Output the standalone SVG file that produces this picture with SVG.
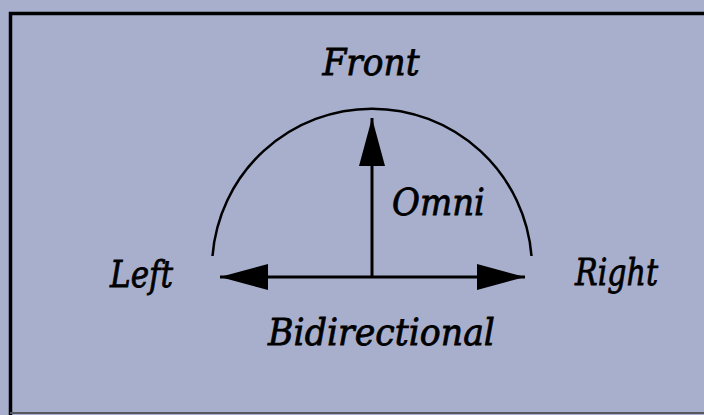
<svg xmlns="http://www.w3.org/2000/svg" width="704" height="415" viewBox="0 0 704 415">
<style>
.lbl{font-family:"DejaVu Serif",serif;font-style:italic;font-size:37px;fill:#000;stroke:#000;stroke-width:0.8px}
.ln{stroke:#000;fill:none}
</style>
<defs>
<marker id="ah" viewBox="0 0 48 26" refX="48" refY="13" markerWidth="48" markerHeight="26" markerUnits="userSpaceOnUse" orient="auto">
<path d="M0,0 L48,13 L0,26 Z" fill="#000"/>
</marker>
</defs>
<rect x="0" y="0" width="704" height="415" fill="#a7afcc"/>
<g id="frame">
<path d="M10.5,415 V13.5 H704" class="ln" stroke-width="3.5"/>
<path d="M10,413 H704" stroke="#55585f" stroke-width="2"/>
</g>
<g id="connectors">
<path id="arc" d="M212.5,256 A160,160 0 0 1 531.5,256" class="ln" stroke-width="2.5"/>
<line id="omni-arrow" x1="372" y1="277" x2="372" y2="118" class="ln" stroke-width="3" marker-end="url(#ah)"/>
<line id="bi-arrow-r" x1="372" y1="277" x2="525" y2="277" class="ln" stroke-width="3" marker-end="url(#ah)"/>
<line id="bi-arrow-l" x1="372" y1="277" x2="220" y2="277" class="ln" stroke-width="3" marker-end="url(#ah)"/>
</g>
<g id="front"><text class="lbl" x="371" y="75" text-anchor="middle" textLength="97" lengthAdjust="spacingAndGlyphs">Front</text></g>
<g id="omni"><text class="lbl" x="392" y="215" textLength="93" lengthAdjust="spacingAndGlyphs">Omni</text></g>
<g id="left"><text class="lbl" x="110" y="287" textLength="63" lengthAdjust="spacingAndGlyphs">Left</text></g>
<g id="right"><text class="lbl" x="575" y="285" textLength="83" lengthAdjust="spacingAndGlyphs">Right</text></g>
<g id="bidirectional"><text class="lbl" x="268" y="345" textLength="227" lengthAdjust="spacingAndGlyphs">Bidirectional</text></g>
</svg>
